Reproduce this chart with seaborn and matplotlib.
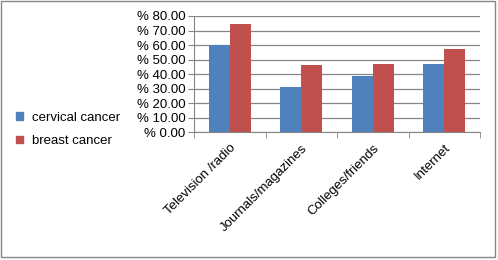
import pandas as pd
import seaborn as sns
import matplotlib.pyplot as plt
from matplotlib.patches import Rectangle
from matplotlib.ticker import FixedLocator

categories = ['Television /radio', 'Journals/magazines', 'Colleges/friends', 'Internet']
cervical = [60.0, 31.0, 38.7, 47.2]
breast = [74.8, 46.5, 47.2, 57.5]
series = ['cervical cancer', 'breast cancer']
colors = ['#4F81BD', '#C0504D']
yticks = [0, 10, 20, 30, 40, 50, 60, 70, 80]

df = pd.DataFrame({
    'source': categories * 2,
    'value': cervical + breast,
    'type': [series[0]] * len(categories) + [series[1]] * len(categories),
})

plt.rcParams['font.family'] = ['Liberation Sans', 'DejaVu Sans']

fig = plt.figure(figsize=(4.98, 2.6), dpi=100)
ax = fig.add_axes([194 / 498, 1 - 132.3 / 260, 286 / 498, 116.3 / 260])

sns.barplot(data=df, x='source', y='value', hue='type', palette=colors,
            width=0.59, saturation=1, ax=ax, legend=False)

ax.set_xlim(-0.5, len(categories) - 0.5)
ax.set_ylim(0, 80)
ax.set_yticks(yticks)
ax.set_yticklabels(['% {:.2f}'.format(v) for v in yticks], fontsize=9.5)
ax.set_xlabel('')
ax.set_ylabel('')
ax.yaxis.grid(True, color='#868686', linewidth=0.9)
ax.set_axisbelow(True)

for s in ['top', 'right']:
    ax.spines[s].set_visible(False)
for s in ['left', 'bottom']:
    ax.spines[s].set_color('#868686')
ax.tick_params(axis='y', length=4, color='#868686', pad=2)
ax.tick_params(axis='x', which='major', length=0, pad=7)
ax.xaxis.set_minor_locator(FixedLocator([i - 0.5 for i in range(len(categories) + 1)]))
ax.tick_params(axis='x', which='minor', length=4, color='#868686')

ax.set_xticks(range(len(categories)))
ax.set_xticklabels(categories, rotation=45, ha='right', rotation_mode='anchor', fontsize=9.5)

handles = [Rectangle((0, 0), 1, 1, color=c) for c in colors]
fig.legend(handles, series, loc='center left', bbox_to_anchor=(16 / 498, 0.502),
           frameon=False, fontsize=9.5, handlelength=0.5, handleheight=0.5,
           handletextpad=0.7, labelspacing=0.85, borderpad=0, borderaxespad=0)

fig.patches.append(Rectangle((0.002, 0.012), 0.992, 0.984, transform=fig.transFigure,
                             fill=False, edgecolor='#868686', linewidth=1))

fig.savefig('out.png', dpi=100)
